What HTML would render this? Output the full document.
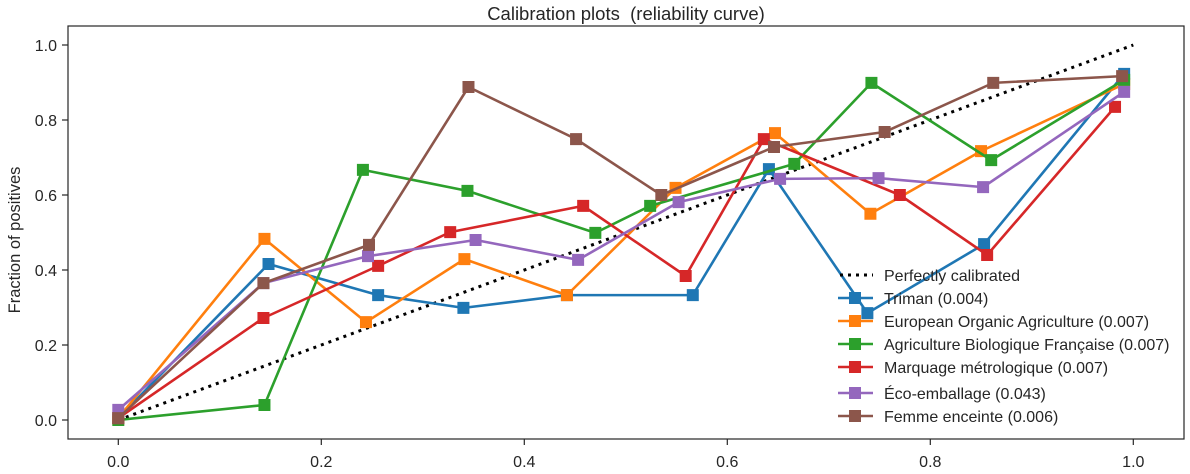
<!DOCTYPE html>
<html><head><meta charset="utf-8"><style>
html,body{margin:0;padding:0;background:#fff;}
svg{display:block;font-family:"Liberation Sans",Arial,sans-serif;}
</style></head><body>
<svg id="chart" width="1190" height="474" xmlns="http://www.w3.org/2000/svg">
<rect width="1190" height="474" fill="#fff"/>
<text x="626" y="20" font-size="18.5" text-anchor="middle" fill="#262626" style="white-space:pre">Calibration plots&#160; (reliability curve)</text>
<text x="0" y="0" font-size="16.5" text-anchor="middle" fill="#262626" transform="translate(20,240) rotate(-90)">Fraction of positives</text>
<g id="axes"></g>
<g id="marks"></g>
<rect x="68" y="26" width="1116" height="413" fill="none" stroke="#262626" stroke-width="1.2"/>
<g id="legend"></g>
</svg>
<script>
const xTicks = [0.0, 0.2, 0.4, 0.6, 0.8, 1.0];
const yTicks = [0.0, 0.2, 0.4, 0.6, 0.8, 1.0];
const seriesNames = ["Triman (0.004)", "European Organic Agriculture (0.007)", "Agriculture Biologique Française (0.007)", "Marquage métrologique (0.007)", "Éco-emballage (0.043)", "Femme enceinte (0.006)"];
const seriesColors = ["#1f77b4", "#ff7f0e", "#2ca02c", "#d62728", "#9467bd", "#8c564b"];
const trimanX = [0, 0.148, 0.256, 0.340, 0.442, 0.566, 0.641, 0.738, 0.853, 0.991];
const trimanY = [0.005, 0.416, 0.333, 0.299, 0.333, 0.333, 0.669, 0.285, 0.469, 0.923];
const euroX = [0, 0.144, 0.244, 0.341, 0.442, 0.549, 0.647, 0.741, 0.850, 0.991];
const euroY = [0.005, 0.483, 0.261, 0.429, 0.333, 0.619, 0.765, 0.550, 0.717, 0.896];
const abX = [0, 0.144, 0.241, 0.344, 0.470, 0.524, 0.666, 0.742, 0.860, 0.991];
const abY = [0.0, 0.040, 0.667, 0.611, 0.499, 0.571, 0.683, 0.899, 0.693, 0.907];
const marqX = [0, 0.143, 0.256, 0.327, 0.458, 0.559, 0.636, 0.770, 0.856, 0.982];
const marqY = [0.005, 0.272, 0.411, 0.501, 0.571, 0.384, 0.749, 0.600, 0.440, 0.835];
const ecoX = [0, 0.143, 0.246, 0.352, 0.453, 0.552, 0.652, 0.749, 0.852, 0.991];
const ecoY = [0.027, 0.365, 0.437, 0.480, 0.427, 0.581, 0.643, 0.645, 0.621, 0.875];
const femmeX = [0, 0.143, 0.247, 0.345, 0.451, 0.535, 0.646, 0.755, 0.862, 0.989];
const femmeY = [0.005, 0.365, 0.467, 0.888, 0.749, 0.600, 0.728, 0.768, 0.899, 0.917];
const allX = [trimanX, euroX, abX, marqX, ecoX, femmeX];
const allY = [trimanY, euroY, abY, marqY, ecoY, femmeY];
const diagX = [0, 1];
const diagY = [0, 1];

const NS = "http://www.w3.org/2000/svg";
function sx(v){ return 118.3 + v * 1015; }
function sy(v){ return 420 - v * 375; }
function mk(tag, attrs, parent){ const e = document.createElementNS(NS, tag); for (const k in attrs) e.setAttribute(k, attrs[k]); parent.appendChild(e); return e; }

const axes = document.getElementById('axes');
xTicks.forEach(t => {
  const l = mk('line', {x1: sx(t), x2: sx(t), y1: 439, y2: 445, stroke: '#262626', 'stroke-width': 1.2}, axes);
  
  
  const tx = mk('text', {x: sx(t), y: 467, 'font-size': 16, 'text-anchor': 'middle', fill: '#262626'}, axes);
  tx.textContent = t.toFixed(1);
  
  
});
yTicks.forEach(t => {
  const l = mk('line', {x1: 62, x2: 68, y1: sy(t), y2: sy(t), stroke: '#262626', 'stroke-width': 1.2}, axes);
  
  
  const tx = mk('text', {x: 57, y: sy(t) + 6, 'font-size': 16, 'text-anchor': 'end', fill: '#262626'}, axes);
  tx.textContent = t.toFixed(1);
  
  
});

const marks = document.getElementById('marks');
const diag = mk('line', {x1: sx(diagX[0]), y1: sy(diagY[0]), x2: sx(diagX[1]), y2: sy(diagY[1]), stroke: '#000', 'stroke-width': 3, 'stroke-dasharray': '3,5'}, marks);



allX.forEach((xs, i) => {
  const ys = allY[i];
  const g = mk('g', {}, marks);
  
  
  const pts = xs.map((x, j) => sx(x) + ',' + sy(ys[j])).join(' ');
  const pl = mk('polyline', {points: pts, fill: 'none', stroke: seriesColors[i], 'stroke-width': 2.6, 'stroke-linejoin': 'round'}, g);
  
  
  xs.forEach((x, j) => {
    const r = mk('rect', {x: sx(x) - 6, y: sy(ys[j]) - 6, width: 12, height: 12, fill: seriesColors[i]}, g);
    
    
  });
});

const legend = document.getElementById('legend');
const lrows = [275, 298, 321, 344, 367, 393, 416];
const ld = mk('line', {x1: 840, x2: 873, y1: lrows[0], y2: lrows[0], stroke: '#000', 'stroke-width': 3, 'stroke-dasharray': '3,5'}, legend);


const lt0 = mk('text', {x: 884, y: lrows[0] + 6, 'font-size': 16, fill: '#262626'}, legend);
lt0.textContent = 'Perfectly calibrated';


seriesNames.forEach((n, i) => {
  const y = lrows[i + 1];
  const l = mk('line', {x1: 838, x2: 873, y1: y, y2: y, stroke: seriesColors[i], 'stroke-width': 2.6}, legend);
  
  
  const r = mk('rect', {x: 849, y: y - 6, width: 12, height: 12, fill: seriesColors[i]}, legend);
  
  
  const t = mk('text', {x: 884, y: y + 6, 'font-size': 16, fill: '#262626'}, legend);
  t.textContent = n;
  
  
});
</script>
</body></html>
